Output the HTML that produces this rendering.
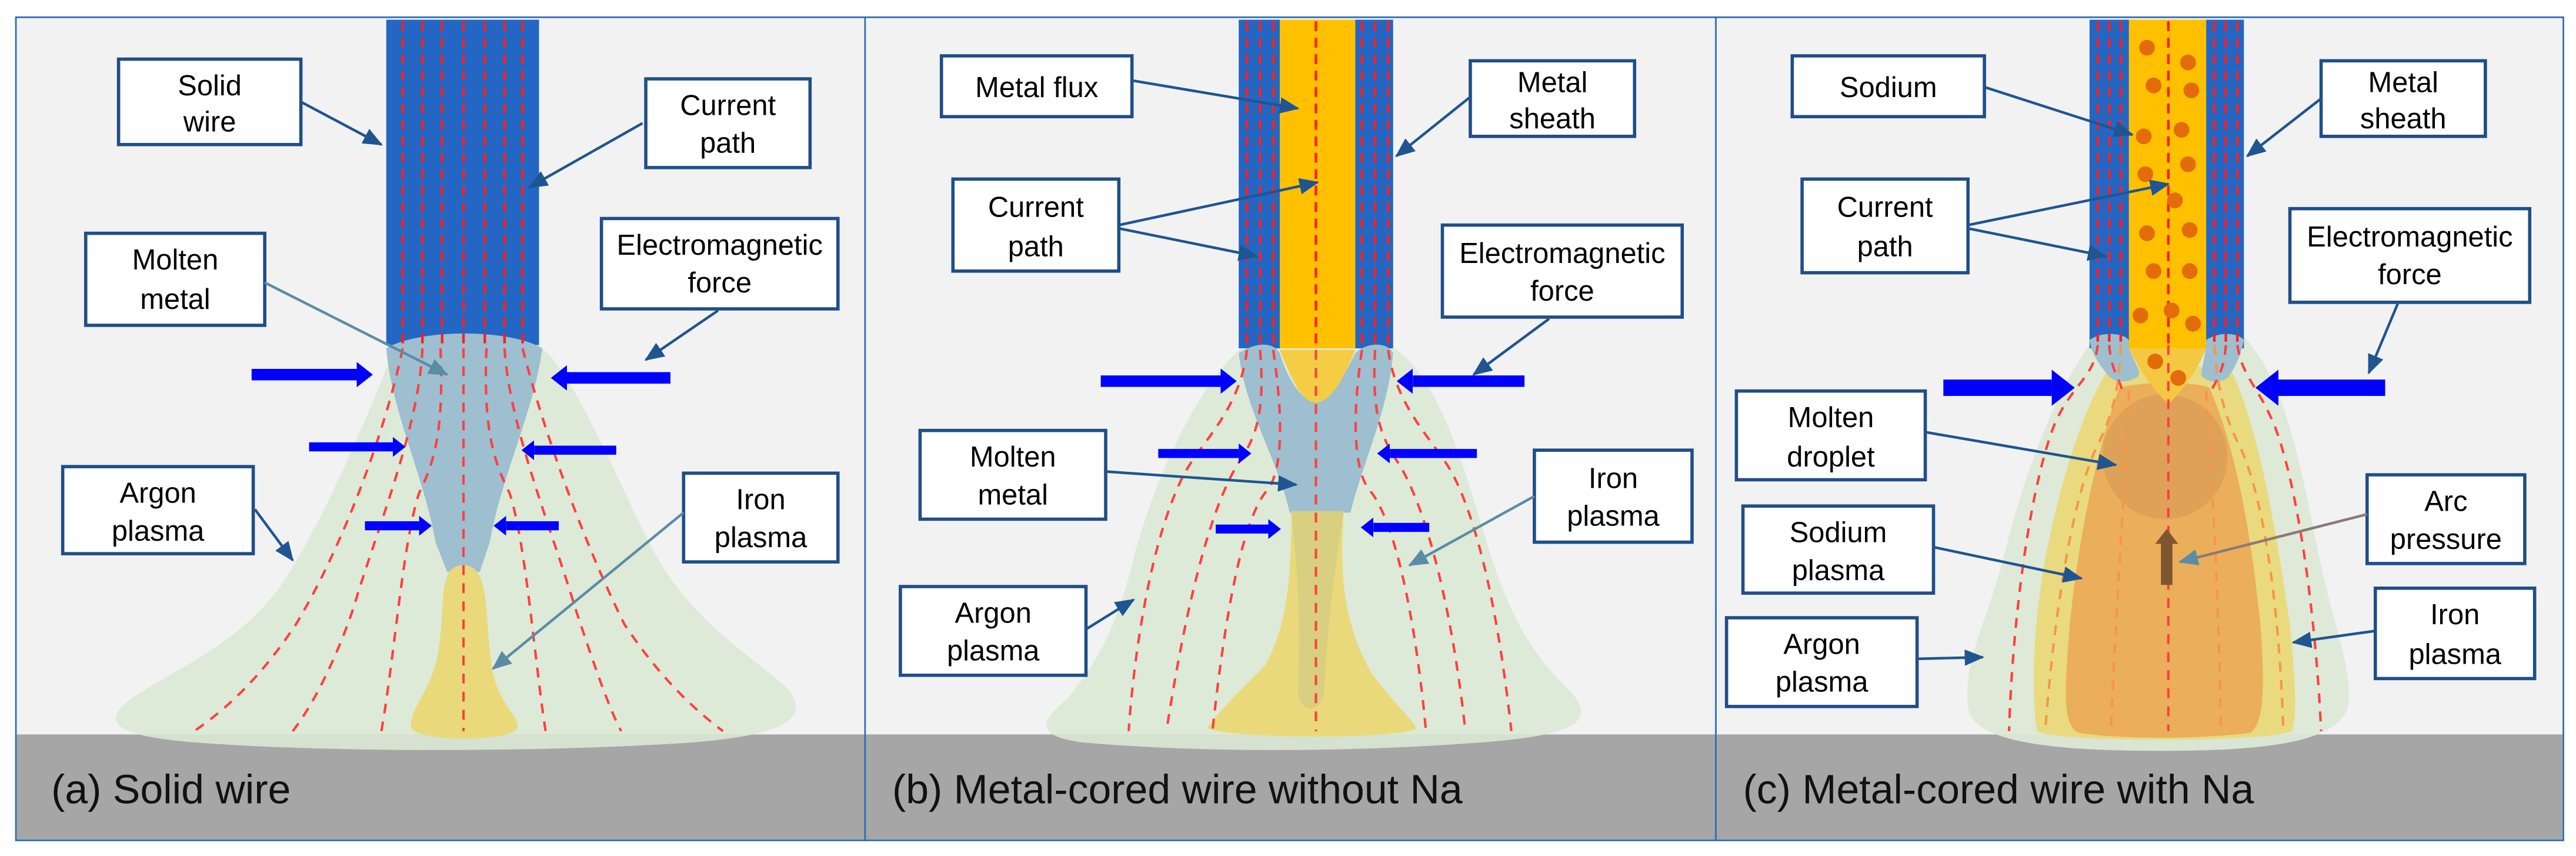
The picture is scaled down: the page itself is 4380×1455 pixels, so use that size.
<!DOCTYPE html>
<html><head><meta charset="utf-8"><style>
html,body{margin:0;padding:0;background:#fff;}
svg{display:block;}
text{font-family:"Liberation Sans",Arial,sans-serif;font-size:17.5px;fill:#000;text-anchor:middle;}
.t{font-size:25px;text-anchor:start;fill:#111;}
.box{fill:#fff;stroke:#1f4e89;stroke-width:2;}
.ptr{stroke:#1f5591;stroke-width:1.6;fill:none;marker-end:url(#ah);}
.ptrg{stroke:#5b8ca6;stroke-width:1.6;fill:none;marker-end:url(#ahg);}
.rd{stroke:#ff4040;stroke-width:1.5;fill:none;stroke-dasharray:6,5;}
.rdv{stroke:#ff2020;stroke-width:1.6;fill:none;stroke-dasharray:6,4;}
.od{stroke:#f79646;stroke-width:1.5;fill:none;stroke-dasharray:6,5;}
</style></head><body>
<svg width="4380" height="1455" viewBox="0 0 1568 521" xmlns="http://www.w3.org/2000/svg">
<defs>
<marker id="ah" markerWidth="12" markerHeight="10" refX="11" refY="5" orient="auto" markerUnits="userSpaceOnUse"><path d="M0,0 L12,5 L0,10 z" fill="#1f5591"/></marker>
<marker id="ahg" markerWidth="12" markerHeight="10" refX="11" refY="5" orient="auto" markerUnits="userSpaceOnUse"><path d="M0,0 L12,5 L0,10 z" fill="#5b8ca6"/></marker>
<marker id="bh" markerWidth="1.4" markerHeight="2.2" refX="0" refY="1.1" orient="auto" markerUnits="strokeWidth"><path d="M0,0 L1.4,1.1 L0,2.2 z" fill="#0000ff"/></marker>
</defs>
<rect x="0" y="0" width="1568" height="521" fill="#fff"/>
<rect x="9.5" y="10.5" width="1551" height="501" fill="#f2f2f2" stroke="#2e6fb4" stroke-width="1"/>
<rect x="10" y="447" width="1550" height="64" fill="#a6a6a6"/>
<line x1="526.5" y1="10" x2="526.5" y2="512" stroke="#2e6fb4" stroke-width="1"/>
<line x1="1044.5" y1="10" x2="1044.5" y2="512" stroke="#2e6fb4" stroke-width="1"/>

<!-- ===== PANEL A ===== -->
<path d="M240,212 C250,206 320,206 330,212 C350,230 370,280 395,330 C420,380 460,400 480,420 C495,440 470,448 420,452 C330,458 200,458 120,452 C70,448 60,440 80,425 C110,405 150,390 175,350 C200,310 225,250 240,212 z" fill="#dce9d5" opacity="0.9"/>
<rect x="235" y="12" width="93" height="198" fill="#2366c3"/>
<path d="M235,212 C255,200 310,200 330,212 C325,250 305,290 298,330 L292,348 L272,348 L265,330 C258,290 238,250 235,212 z" fill="#9dbfcf"/>
<path d="M282,344 C300,344 294,380 300,410 C305,430 315,435 315,442 C315,452 250,452 250,442 C250,430 262,420 266,400 C272,370 265,344 282,344 z" fill="#e9d97a"/>
<g class="rdv">
<line x1="245" y1="13" x2="245" y2="210"/><line x1="257" y1="13" x2="257" y2="210"/><line x1="269" y1="13" x2="269" y2="210"/><line x1="282" y1="13" x2="282" y2="210"/><line x1="295" y1="13" x2="295" y2="210"/><line x1="307" y1="13" x2="307" y2="210"/><line x1="318" y1="13" x2="318" y2="210"/>
</g>
<g class="rd">
<path d="M245,212 C235,260 210,330 180,380 C160,410 140,430 118,445"/>
<path d="M257,212 C255,260 230,320 215,370 C205,400 190,430 178,445"/>
<path d="M268,212 C270,260 265,280 255,300 C245,330 240,400 232,445"/>
<line x1="282" y1="212" x2="282" y2="445"/>
<path d="M296,212 C294,260 300,280 310,300 C320,330 325,400 332,445"/>
<path d="M307,212 C310,260 335,320 350,370 C360,400 370,430 378,445"/>
<path d="M318,212 C330,260 355,330 380,380 C400,410 420,430 440,445"/>
</g>
<g stroke="#0000ff" fill="none" marker-end="url(#bh)">
<line x1="153" y1="228" x2="217" y2="228" stroke-width="7"/>
<line x1="408" y1="230" x2="345" y2="230" stroke-width="7"/>
<line x1="188" y1="272" x2="239" y2="272" stroke-width="5.5"/>
<line x1="375" y1="274" x2="325" y2="274" stroke-width="5.5"/>
<line x1="222" y1="320" x2="255" y2="320" stroke-width="5.5"/>
<line x1="340" y1="320" x2="308" y2="320" stroke-width="5.5"/>
</g>
<rect class="box" x="72" y="36" width="111" height="52"/><text x="127.5" y="58">Solid</text><text x="127.5" y="80">wire</text>
<rect class="box" x="393" y="48" width="100" height="54"/><text x="443" y="70">Current</text><text x="443" y="93">path</text>
<rect class="box" x="52" y="142" width="109" height="56"/><text x="106.5" y="164">Molten</text><text x="106.5" y="188">metal</text>
<rect class="box" x="366" y="133" width="144" height="55"/><text x="438" y="155">Electromagnetic</text><text x="438" y="178">force</text>
<rect class="box" x="38" y="284" width="116" height="53"/><text x="96" y="306">Argon</text><text x="96" y="329">plasma</text>
<rect class="box" x="416" y="288" width="94" height="54"/><text x="463" y="310">Iron</text><text x="463" y="333">plasma</text>
<line class="ptr" x1="183" y1="62" x2="232" y2="88"/>
<line class="ptr" x1="391" y1="75" x2="322" y2="114"/>
<line class="ptrg" x1="161" y1="172" x2="272" y2="228"/>
<line class="ptr" x1="437" y1="189" x2="393" y2="219"/>
<line class="ptr" x1="155" y1="310" x2="178" y2="341"/>
<line class="ptrg" x1="416" y1="312" x2="300" y2="407"/>
<text class="t" x="31" y="489">(a) Solid wire</text>

<!-- ===== PANEL B ===== -->
<path d="M754,213 C770,206 840,206 850,213 C875,230 890,280 905,330 C920,380 935,400 955,420 C975,440 955,448 900,452 C820,458 730,458 660,452 C630,448 632,440 650,425 C670,400 680,380 690,340 C700,300 725,240 754,213 z" fill="#dce9d5" opacity="0.9"/>
<rect x="754" y="12" width="25" height="200" fill="#2366c3"/>
<rect x="825" y="12" width="23" height="200" fill="#2366c3"/>
<rect x="779" y="12" width="46" height="200" fill="#ffc000"/>
<path d="M754,215 C765,208 775,208 779,215 C785,235 795,245 801,245 C808,245 815,235 825,215 C832,208 845,208 848,215 C845,250 830,280 822,312 L785,312 C778,280 758,250 754,215 z" fill="#9dbfcf"/>
<path d="M779,213 L825,213 C818,230 810,245 801,245 C792,245 786,230 779,213 z" fill="#f5cd45"/>
<path d="M786,311 L818,311 C815,350 818,380 835,410 C850,430 860,438 862,443 C860,450 745,450 735,443 C740,435 755,420 770,405 C784,380 786,350 786,311 z" fill="#e9d97a"/>
<path d="M786,311 L818,311 C812,350 808,380 806,420 C805,435 790,435 790,420 C792,380 790,350 786,311 z" fill="#d8cf80"/>
<g class="rdv">
<line x1="759" y1="13" x2="759" y2="210"/><line x1="767" y1="13" x2="767" y2="210"/><line x1="775" y1="13" x2="775" y2="210"/>
<line x1="829" y1="13" x2="829" y2="210"/><line x1="837" y1="13" x2="837" y2="210"/><line x1="845" y1="13" x2="845" y2="210"/>
<line x1="801" y1="13" x2="801" y2="210"/>
</g>
<g class="rd">
<path d="M759,213 C755,250 730,270 720,290 C700,330 690,400 687,445"/>
<path d="M767,213 C770,250 765,265 755,280 C735,310 720,380 710,445"/>
<path d="M775,213 C782,260 780,290 770,300 C755,320 745,380 738,445"/>
<line x1="801" y1="213" x2="801" y2="445"/>
<path d="M829,213 C822,260 825,290 835,300 C850,320 862,380 868,445"/>
<path d="M837,213 C835,250 840,265 850,280 C870,310 885,380 892,445"/>
<path d="M845,213 C850,250 875,270 885,290 C905,330 915,400 920,445"/>
</g>
<g stroke="#0000ff" fill="none" marker-end="url(#bh)">
<line x1="670" y1="232" x2="743" y2="232" stroke-width="7"/>
<line x1="928" y1="232" x2="860" y2="232" stroke-width="7"/>
<line x1="705" y1="276" x2="754" y2="276" stroke-width="5.5"/>
<line x1="899" y1="276" x2="846" y2="276" stroke-width="5.5"/>
<line x1="740" y1="322" x2="772" y2="322" stroke-width="5.5"/>
<line x1="870" y1="321" x2="836" y2="321" stroke-width="5.5"/>
</g>
<rect class="box" x="573" y="34" width="116" height="37"/><text x="631" y="59">Metal flux</text>
<rect class="box" x="895" y="37" width="100" height="46"/><text x="945" y="56">Metal</text><text x="945" y="78">sheath</text>
<rect class="box" x="580" y="109" width="101" height="56"/><text x="630.5" y="132">Current</text><text x="630.5" y="156">path</text>
<rect class="box" x="878" y="137" width="146" height="56"/><text x="951" y="160">Electromagnetic</text><text x="951" y="183">force</text>
<rect class="box" x="560" y="262" width="113" height="54"/><text x="616.5" y="284">Molten</text><text x="616.5" y="307">metal</text>
<rect class="box" x="934" y="274" width="96" height="56"/><text x="982" y="297">Iron</text><text x="982" y="320">plasma</text>
<rect class="box" x="548" y="357" width="113" height="54"/><text x="604.5" y="379">Argon</text><text x="604.5" y="402">plasma</text>
<line class="ptr" x1="689" y1="49" x2="790" y2="66"/>
<line class="ptr" x1="895" y1="59" x2="850" y2="95"/>
<line class="ptr" x1="681" y1="137" x2="802" y2="111"/>
<line class="ptr" x1="681" y1="139" x2="765" y2="156"/>
<line class="ptr" x1="943" y1="194" x2="897" y2="228"/>
<line class="ptr" x1="673" y1="287" x2="789" y2="295"/>
<line class="ptrg" x1="934" y1="302" x2="858" y2="344"/>
<line class="ptr" x1="661" y1="383" x2="690" y2="365"/>
<text class="t" x="543" y="489">(b) Metal-cored wire without Na</text>

<!-- ===== PANEL C ===== -->
<path d="M1276,205 C1300,198 1345,198 1366,205 C1390,230 1400,280 1410,330 C1420,380 1430,400 1430,425 C1430,452 1380,457 1315,457 C1250,457 1200,452 1198,430 C1195,400 1210,380 1222,330 C1235,280 1255,230 1276,205 z" fill="#dce9d5" opacity="0.95"/>
<rect x="1272" y="12" width="24" height="200" fill="#2366c3"/>
<rect x="1343" y="12" width="23" height="200" fill="#2366c3"/>
<rect x="1296" y="12" width="47" height="200" fill="#ffc000"/>
<path d="M1283,225 C1300,222 1340,222 1358,225 C1375,260 1385,320 1394,380 C1398,420 1398,440 1395,445 C1380,452 1250,452 1240,445 C1236,420 1238,380 1245,340 C1255,290 1268,250 1283,225 z" fill="#e9d97a" opacity="0.95"/>
<path d="M1290,236 C1305,232 1335,232 1345,236 C1360,270 1370,320 1376,380 C1379,420 1378,440 1370,446 C1340,450 1290,450 1265,446 C1255,440 1257,420 1260,380 C1266,320 1278,270 1290,236 z" fill="#ebae5a"/>
<circle cx="1318" cy="278" r="38" fill="#d99f58" opacity="0.8"/>
<path d="M1272,207 C1278,202 1292,202 1296,207 L1296,212 C1300,222 1305,228 1300,230 C1292,234 1286,232 1283,228 C1278,222 1273,215 1272,207 z" fill="#9dbfcf"/>
<path d="M1343,207 C1350,202 1362,202 1366,207 C1364,217 1360,225 1356,230 C1350,234 1342,232 1340,228 C1341,220 1343,215 1343,207 z" fill="#9dbfcf"/>
<path d="M1296,212 L1343,212 C1338,225 1330,236 1320,246 C1310,236 1302,225 1296,212 z" fill="#f5c842"/>
<g class="rdv">
<line x1="1277" y1="13" x2="1277" y2="208"/><line x1="1284" y1="13" x2="1284" y2="208"/><line x1="1291" y1="13" x2="1291" y2="208"/>
<line x1="1348" y1="13" x2="1348" y2="208"/><line x1="1355" y1="13" x2="1355" y2="208"/><line x1="1362" y1="13" x2="1362" y2="208"/>
<line x1="1320" y1="13" x2="1320" y2="210"/>
</g>
<g fill="#e36c0a">
<circle cx="1307" cy="29" r="4.8"/><circle cx="1332" cy="38" r="4.8"/><circle cx="1311" cy="52" r="4.8"/><circle cx="1334" cy="55" r="4.8"/><circle cx="1305" cy="83" r="4.8"/><circle cx="1328" cy="79" r="4.8"/><circle cx="1332" cy="100" r="4.8"/><circle cx="1306" cy="106" r="4.8"/><circle cx="1324" cy="122" r="4.8"/><circle cx="1307" cy="142" r="4.8"/><circle cx="1333" cy="140" r="4.8"/><circle cx="1311" cy="165" r="4.8"/><circle cx="1333" cy="165" r="4.8"/><circle cx="1303" cy="192" r="4.8"/><circle cx="1322" cy="189" r="4.8"/><circle cx="1335" cy="197" r="4.8"/><circle cx="1312" cy="220" r="4.8"/><circle cx="1326" cy="230" r="4.8"/>
</g>
<g class="rd">
<path d="M1277,210 C1275,230 1260,235 1250,260 C1235,300 1225,380 1223,445"/>
<path d="M1362,210 C1365,230 1375,235 1385,260 C1400,300 1410,380 1413,445"/>
<path d="M1284,210 C1285,225 1290,230 1292,238"/>
<path d="M1355,210 C1354,225 1350,230 1346,238"/>
<line x1="1320" y1="210" x2="1320" y2="445"/>
</g>
<g class="od">
<path d="M1291,210 C1290,240 1285,255 1275,275 C1260,310 1250,380 1245,445"/>
<path d="M1348,210 C1350,240 1355,255 1365,275 C1380,310 1388,380 1390,445"/>
<path d="M1296,238 C1295,280 1290,330 1285,445"/>
<path d="M1343,238 C1345,280 1350,330 1352,445"/>
</g>
<line x1="1319" y1="356" x2="1319" y2="330" stroke="#7f5630" stroke-width="7"/>
<path d="M1312,331 L1319,322 L1326,331 z" fill="#7f5630"/>
<g stroke="#0000ff" fill="none" marker-end="url(#bh)">
<line x1="1183" y1="236" x2="1249" y2="236" stroke-width="10"/>
<line x1="1452" y1="236" x2="1387" y2="236" stroke-width="10"/>
</g>
<rect class="box" x="1091" y="34" width="117" height="37"/><text x="1149.5" y="59">Sodium</text>
<rect class="box" x="1413" y="37" width="100" height="46"/><text x="1463" y="56">Metal</text><text x="1463" y="78">sheath</text>
<rect class="box" x="1097" y="109" width="101" height="57"/><text x="1147.5" y="132">Current</text><text x="1147.5" y="156">path</text>
<rect class="box" x="1394" y="127" width="146" height="57"/><text x="1467" y="150">Electromagnetic</text><text x="1467" y="173">force</text>
<rect class="box" x="1057" y="238" width="115" height="54"/><text x="1114.5" y="260">Molten</text><text x="1114.5" y="284">droplet</text>
<rect class="box" x="1441" y="289" width="96" height="54"/><text x="1489" y="311">Arc</text><text x="1489" y="334">pressure</text>
<rect class="box" x="1061" y="308" width="116" height="53"/><text x="1119" y="330">Sodium</text><text x="1119" y="353">plasma</text>
<rect class="box" x="1446" y="358" width="97" height="55"/><text x="1494.5" y="380">Iron</text><text x="1494.5" y="404">plasma</text>
<rect class="box" x="1051" y="376" width="116" height="54"/><text x="1109" y="398">Argon</text><text x="1109" y="421">plasma</text>
<line class="ptr" x1="1208" y1="53" x2="1298" y2="82"/>
<line class="ptr" x1="1413" y1="60" x2="1368" y2="95"/>
<line class="ptr" x1="1198" y1="137" x2="1320" y2="112"/>
<line class="ptr" x1="1198" y1="139" x2="1282" y2="156"/>
<line class="ptr" x1="1460" y1="184" x2="1442" y2="227"/>
<line class="ptr" x1="1172" y1="263" x2="1288" y2="283"/>
<line x1="1441" y1="313" x2="1327" y2="342" stroke="#8a7a75" stroke-width="1.6" marker-end="url(#ahg)"/>
<line class="ptr" x1="1177" y1="333" x2="1267" y2="352"/>
<line class="ptr" x1="1446" y1="384" x2="1396" y2="391"/>
<line class="ptr" x1="1167" y1="401" x2="1207" y2="400"/>
<text class="t" x="1061" y="489">(c) Metal-cored wire with Na</text>
</svg>
</body></html>
